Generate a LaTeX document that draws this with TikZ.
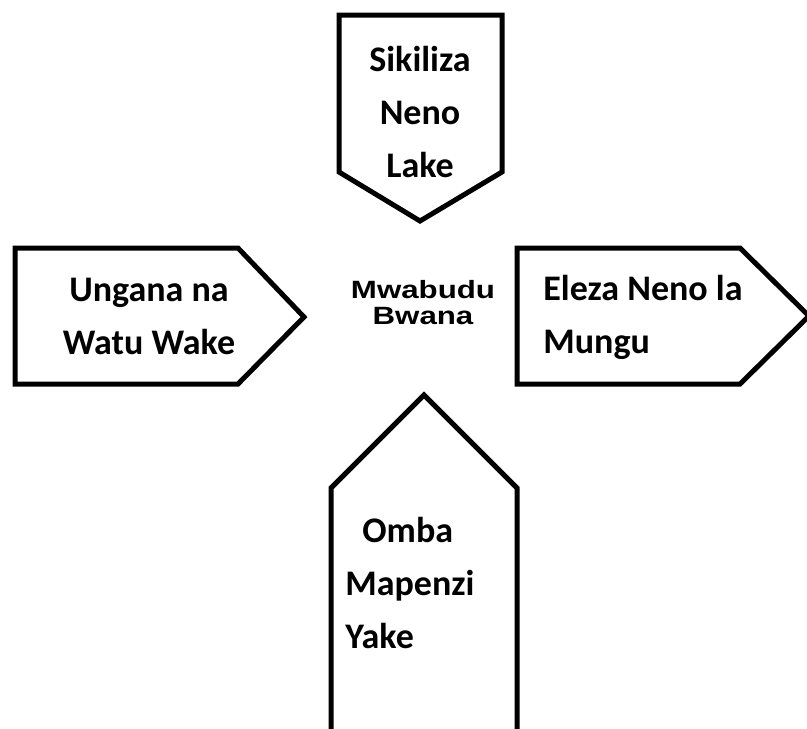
\documentclass[tikz,border=0pt]{standalone}
\usepackage{fontspec}
\setmainfont{Carlito}
\newfontfamily\hubfont{Liberation Sans}
\usetikzlibrary{positioning}

\tikzset{
  pointer/.style={draw, line width=2.5pt, line join=miter},
  boxtext/.style={font=\bfseries\fontsize{18}{26.5}\selectfont, inner sep=0pt},
  hubtext/.style={font=\hubfont\bfseries\fontsize{12.5}{13}\selectfont, align=center, xscale=1.25, inner sep=0pt}
}

\begin{document}
\begin{tikzpicture}[x=0.5pt, y=-0.5pt]
\useasboundingbox (0,0) rectangle (807,728);
% the four pointers
\draw[pointer] (339,15) -- (502,15) -- (502,172) -- (420,221) -- (339,172) -- cycle;
\draw[pointer] (15,248) -- (238,248) -- (304,317) -- (238,384) -- (15,384) -- cycle;
\draw[pointer] (517,248) -- (740,248) -- (809,316) -- (740,384) -- (517,384) -- cycle;
\draw[pointer] (331,760) -- (331,488) -- (424,395) -- (517,488) -- (517,760);
% texts (base = last line)
\node[boxtext, align=center, anchor=base] (sikiliza) at (420,177) {Sikiliza\\Neno\\Lake};
\node[boxtext, align=center, anchor=base] (ungana) at (149,354) {Ungana na\\Watu Wake};
\node[boxtext, align=left, anchor=base west] (eleza) at (543,353) {Eleza Neno la\\Mungu};
\node[boxtext, align=left, anchor=base west] (omba) at (345,648) {\hspace*{8.5pt}Omba\\Mapenzi\\Yake};
\node[hubtext, anchor=base] (mwabudu) at (423,324) {Mwabudu\\Bwana};
\end{tikzpicture}
\end{document}
